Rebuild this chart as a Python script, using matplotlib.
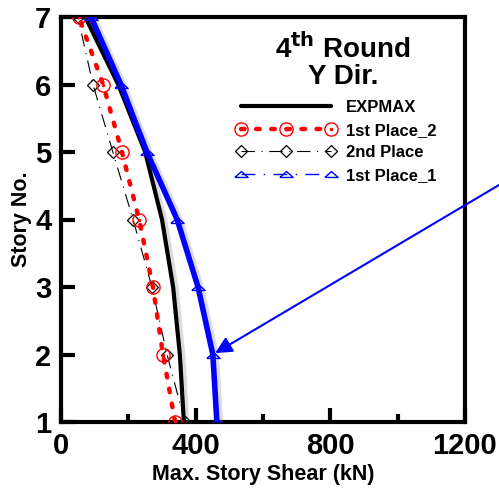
import matplotlib
matplotlib.use("Agg")
import matplotlib.pyplot as plt
from matplotlib.lines import Line2D
from matplotlib.legend_handler import HandlerTuple
import matplotlib.patheffects as pe
from matplotlib.ticker import MultipleLocator

plt.rcParams['font.family'] = ['Liberation Sans', 'DejaVu Sans']
plt.rcParams['font.weight'] = 'bold'

stories = [1, 2, 3, 4, 5, 6, 7]
expmax = [365, 353, 333, 300, 250, 170, 72]
first_place_2 = [339, 303, 273, 232, 181, 125, 53]
second_place = [368, 315, 270, 214, 154, 95, 50]
first_place_1 = [463, 451, 407, 345, 255, 178, 89]

x_ticks = [0, 400, 800, 1200]
y_ticks = [1, 2, 3, 4, 5, 6, 7]
labels = ["EXPMAX", "1st Place_2", "2nd Place", "1st Place_1"]

fig = plt.figure(figsize=(4.99, 4.88), dpi=100)
ax = fig.add_axes([61/499, 1-422/488, (465-61)/499, (422-17)/488])

tri = [(-1, -0.45), (1, -0.45), (0, 0.45), (-1, -0.45)]
shadow = [pe.SimpleLineShadow(offset=(2.5, -1), shadow_color='0.55', alpha=0.3), pe.Normal()]

ax.plot(expmax, stories, color='black', lw=3, solid_capstyle='round', zorder=3,
        path_effects=shadow)
ax.plot(second_place, stories, color='black', lw=0.8, linestyle=(0, (12, 6, 1, 6)),
        marker='D', ms=6, mfc='none', mec='black', mew=0.9, zorder=4)
ax.plot(first_place_2, stories, color='red', lw=3.2, linestyle=(0, (0.8, 2.6)),
        dash_capstyle='round', zorder=5)
ax.plot(first_place_2, stories, linestyle='none', marker='o', ms=9.5, mfc='none',
        mec='red', mew=1.0, zorder=6)
ax.plot(first_place_2, stories, linestyle='none', marker='.', ms=3, color='red', zorder=6)
ax.plot(first_place_1, stories, color='blue', lw=4, solid_capstyle='round', zorder=4,
        path_effects=shadow)
ax.plot(first_place_1, stories, linestyle='none', marker=tri, ms=9.5, mfc='none',
        mec='blue', mew=1.0, zorder=7)

ax.set_xlim(0, 1200)
ax.set_ylim(1, 7)
ax.set_xticks(x_ticks)
ax.set_yticks(y_ticks)
ax.xaxis.set_minor_locator(MultipleLocator(200))
ax.tick_params(axis='both', which='major', direction='in', length=10, width=3,
               labelsize=21, pad=7)
ax.tick_params(axis='x', which='minor', direction='in', length=6, width=3)
for lab in ax.get_xticklabels() + ax.get_yticklabels():
    lab.set_fontweight('bold')
for s in ax.spines.values():
    s.set_linewidth(3)

ax.set_xlabel("Max. Story Shear (kN)", fontsize=15.5, fontweight='bold', labelpad=3)
ax.set_ylabel("Story No.", fontsize=15.5, fontweight='bold', labelpad=2)

ax.text(343/499, 1-49/488, r"4$^{\mathbf{th}}$ Round", transform=fig.transFigure,
        ha='center', va='center', fontsize=20, fontweight='bold')
ax.text(343/499, 1-77/488, "Y Dir.", transform=fig.transFigure,
        ha='center', va='center', fontsize=20, fontweight='bold')

h_exp = Line2D([], [], color='black', lw=3, solid_capstyle='round')
h_r1 = Line2D([], [], color='red', lw=3.2, linestyle=(0, (0.8, 2.6)), dash_capstyle='round',
              marker='o', ms=9.5, mfc='none', mec='red', mew=1.0)
h_r2 = Line2D([], [], linestyle='none', marker='.', ms=3, color='red')
h_d = Line2D([], [], color='black', lw=0.8, linestyle=(0, (12, 6, 1, 6)),
             marker='D', ms=6, mfc='none', mec='black', mew=0.9)
h_b = Line2D([], [], color='blue', lw=1.0, linestyle=(0, (10, 6, 1, 6)),
             marker=tri, ms=9.5, mfc='none', mec='blue', mew=1.0)
leg = ax.legend([h_exp, (h_r1, h_r2), h_d, h_b], labels,
                handler_map={tuple: HandlerTuple(ndivide=1)},
                loc='upper left', bbox_to_anchor=(236/499, 1-100/488),
                bbox_transform=fig.transFigure, frameon=False, numpoints=3,
                handlelength=6.0, handletextpad=0.6, labelspacing=0.46,
                borderpad=0, borderaxespad=0,
                prop={'size': 12, 'weight': 'bold'})

ax.annotate("", xy=(first_place_1[1], stories[1]), xycoords='data',
            xytext=(1.0, 1-185/488), textcoords='figure fraction',
            arrowprops=dict(arrowstyle='-|>', color='blue', lw=1.5,
                            mutation_scale=25, shrinkA=0, shrinkB=2),
            annotation_clip=False, zorder=8)

fig.savefig("out.png", dpi=100)
